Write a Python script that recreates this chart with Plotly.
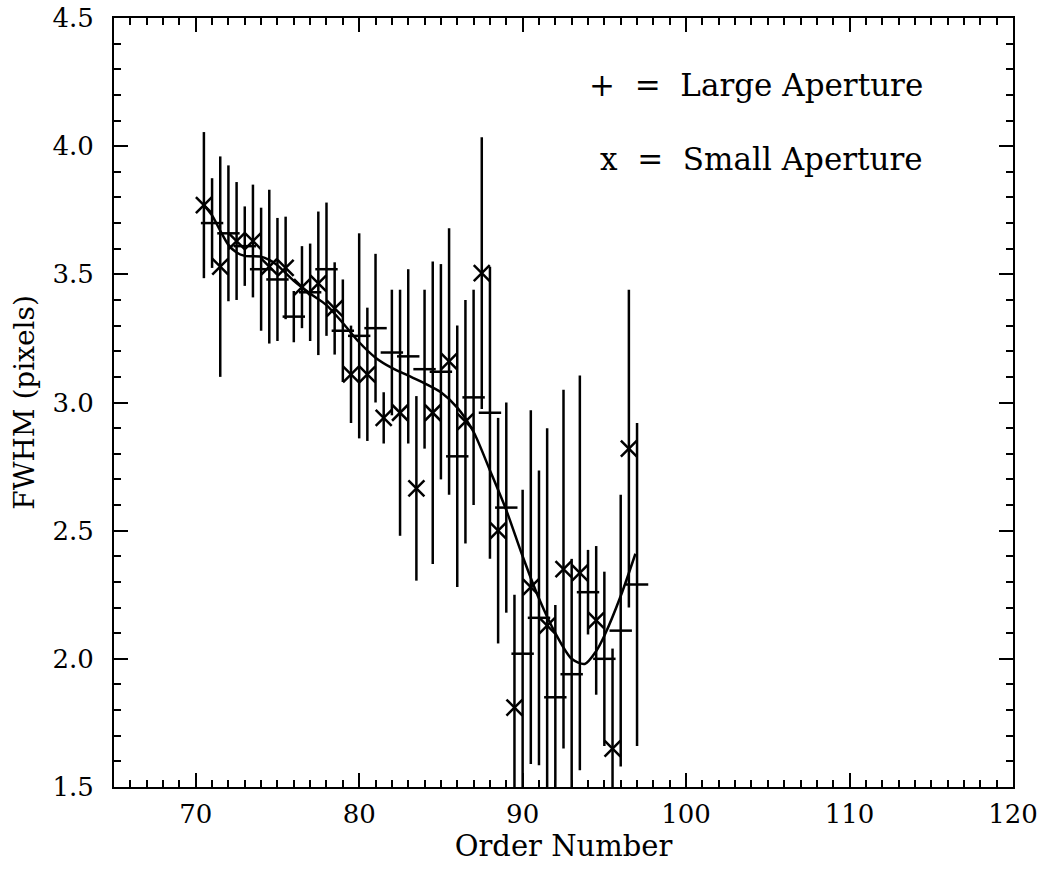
import plotly.graph_objects as go

# Large aperture: FWHM per echelle order with 1-sigma errors
large_order = [71, 72, 73, 74, 75, 76, 77, 78, 79, 80, 81, 82, 83, 84,
               85, 86, 87, 88, 89, 90, 91, 92, 93, 94, 95, 96, 97]
large_fwhm = [3.70, 3.66, 3.61, 3.52, 3.48, 3.335, 3.43, 3.52, 3.28, 3.26,
              3.29, 3.195, 3.18, 3.13, 3.12, 2.79, 3.02, 2.96, 2.59, 2.02,
              2.16, 1.85, 1.94, 2.26, 2.00, 2.11, 2.29]
large_err = [0.175, 0.265, 0.155, 0.24, 0.24, 0.10, 0.19, 0.26, 0.20, 0.40,
             0.29, 0.245, 0.34, 0.31, 0.42, 0.51, 0.42, 0.57, 0.41, 0.64,
             0.575, 0.36, 0.45, 0.165, 0.34, 0.53, 0.63]

# Small aperture: same orders, plotted half an order to the left
small_order = [70.5, 71.5, 72.5, 73.5, 74.5, 75.5, 76.5, 77.5, 78.5, 79.5,
               80.5, 81.5, 82.5, 83.5, 84.5, 85.5, 86.5, 87.5, 88.5, 89.5,
               90.5, 91.5, 92.5, 93.5, 94.5, 95.5, 96.5]
small_fwhm = [3.77, 3.53, 3.63, 3.63, 3.53, 3.525, 3.45, 3.465, 3.367, 3.11,
              3.11, 2.94, 2.96, 2.665, 2.96, 3.16, 2.925, 3.505, 2.50, 1.81,
              2.28, 2.13, 2.35, 2.335, 2.15, 1.65, 2.82]
small_err = [0.285, 0.43, 0.23, 0.22, 0.30, 0.20, 0.16, 0.28, 0.18, 0.19,
             0.26, 0.10, 0.48, 0.36, 0.59, 0.52, 0.475, 0.53, 0.44, 0.44,
             0.69, 0.77, 0.70, 0.77, 0.29, 0.39, 0.62]

# Smooth fit through both apertures
fit_order = [70.5, 71.0, 71.5, 72.0, 72.5, 73.0, 74.0, 74.5, 75.0, 76.0,
             77.0, 78.0, 79.0, 80.0, 81.0, 82.0, 83.0, 84.0, 85.0, 86.0,
             87.0, 88.0, 89.0, 90.0, 91.0, 92.0, 93.0, 93.8, 94.5, 95.0,
             96.0, 96.9]
fit_fwhm = [3.77, 3.73, 3.67, 3.615, 3.585, 3.572, 3.569, 3.556, 3.535, 3.475,
            3.425, 3.38, 3.31, 3.235, 3.175, 3.135, 3.105, 3.075, 3.04, 2.98,
            2.885, 2.735, 2.58, 2.40, 2.235, 2.10, 2.00, 1.98, 2.03, 2.09,
            2.245, 2.41]

x_ticks = [70, 80, 90, 100, 110, 120]
y_ticks = [1.5, 2.0, 2.5, 3.0, 3.5, 4.0, 4.5]

# Key text, one line per aperture, with the level each line sits at
key_text = ["+\u00a0\u00a0=\u00a0\u00a0Large Aperture",
            "x\u00a0\u00a0=\u00a0\u00a0Small Aperture"]
key_level = [4.24, 3.95]

FONT = "DejaVu Serif"
INK = "black"

fig = go.Figure()

fig.add_trace(go.Scatter(
    x=large_order, y=large_fwhm, mode="markers",
    marker=dict(symbol="line-ew", size=16, color=INK,
                line=dict(color=INK, width=2.5)),
    error_y=dict(type="data", array=large_err, visible=True,
                 color=INK, thickness=2.5, width=0),
    showlegend=False, hoverinfo="skip"))

fig.add_trace(go.Scatter(
    x=small_order, y=small_fwhm, mode="markers",
    marker=dict(symbol="x-thin", size=16, color=INK,
                line=dict(color=INK, width=2.5)),
    error_y=dict(type="data", array=small_err, visible=True,
                 color=INK, thickness=2.5, width=0),
    showlegend=False, hoverinfo="skip"))

fig.add_trace(go.Scatter(
    x=fit_order, y=fit_fwhm, mode="lines",
    line=dict(color=INK, width=2.5, shape="spline", smoothing=0.8),
    showlegend=False, hoverinfo="skip"))

axis_common = dict(
    showgrid=False, zeroline=False, showline=True, linecolor=INK,
    linewidth=2, mirror="allticks", ticks="inside", tickcolor=INK,
    tickwidth=1.5, ticklen=14, automargin=False,
    tickfont=dict(family=FONT, size=26, color=INK),
)

fig.update_xaxes(
    range=[65, 120], tickvals=x_ticks, ticktext=[str(v) for v in x_ticks],
    minor=dict(dtick=1, tick0=65, ticks="inside", ticklen=7,
               tickcolor=INK, tickwidth=1.5),
    ticklabelstandoff=3,
    title=dict(text="Order Number", font=dict(family=FONT, size=29, color=INK),
               standoff=6),
    **axis_common)

fig.update_yaxes(
    range=[1.5, 4.5], tickvals=y_ticks, ticktext=[f"{v:.1f}" for v in y_ticks],
    minor=dict(dtick=0.1, tick0=1.5, ticks="inside", ticklen=7,
               tickcolor=INK, tickwidth=1.5),
    ticklabelstandoff=13,
    title=dict(text="FWHM (pixels)", font=dict(family=FONT, size=28, color=INK),
               standoff=10),
    **axis_common)

for text, level in zip(key_text, key_level):
    fig.add_annotation(
        x=0.902, y=level, xref="paper", yref="y",
        xanchor="right", yanchor="middle",
        text=text, showarrow=False,
        font=dict(family=FONT, size=31, color=INK))

fig.update_layout(
    width=1043, height=869,
    margin=dict(l=114, r=30, t=18, b=82),
    paper_bgcolor="white", plot_bgcolor="white",
)

fig.write_html("out.html")
